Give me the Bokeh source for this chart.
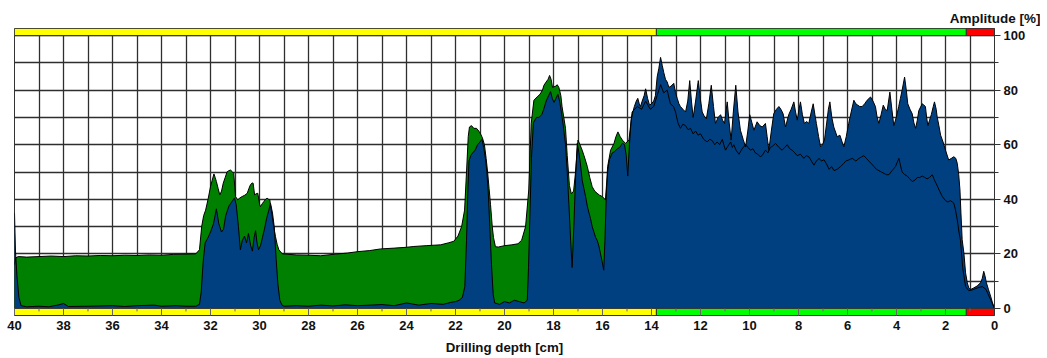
from bokeh.plotting import figure
from bokeh.models import Range1d, FixedTicker, Title
from bokeh.embed import file_html
from bokeh.resources import INLINE

# ---------------- data ----------------
green_depth = [40.00, 39.95, 39.85, 39.5, 39.0, 38.5, 38.0, 37.5, 37.0, 36.5, 36.0, 35.5, 35.0, 34.5, 34.0,
               33.5, 33.0, 32.6, 32.45, 32.36, 32.28, 32.20, 32.10, 32.00, 31.93, 31.86, 31.81, 31.76,
               31.69, 31.62, 31.55, 31.48, 31.40, 31.32, 31.25, 31.18, 31.10, 31.05, 30.98, 30.89, 30.80,
               30.71, 30.60, 30.50, 30.43, 30.37, 30.30, 30.26, 30.20, 30.14, 30.07, 29.99, 29.96, 29.88,
               29.82, 29.75, 29.69, 29.63, 29.58, 29.52, 29.48, 29.42, 29.35, 29.28, 29.21, 29.07, 28.5,
               28.0, 27.5, 27.0, 26.4, 26.0, 25.5, 25.06, 24.5, 24.0, 23.70, 23.2, 22.61, 22.3, 22.07,
               21.90, 21.75, 21.63, 21.55, 21.48, 21.43, 21.35, 21.25, 21.14, 21.05, 20.98, 20.90, 20.82,
               20.75, 20.69, 20.63, 20.57, 20.50, 20.45, 20.37, 20.25, 20.0, 19.7, 19.45, 19.30, 19.14,
               19.01, 18.91, 18.80, 18.67, 18.55, 18.45, 18.39, 18.30, 18.22, 18.16, 18.10, 18.04, 17.99,
               17.90, 17.85, 17.78, 17.70, 17.65, 17.58, 17.51, 17.44, 17.35, 17.27, 17.18, 17.10, 17.00,
               16.92, 16.83, 16.72, 16.62, 16.52, 16.42, 16.32, 16.22, 16.12, 16.01, 15.88, 15.83, 15.79,
               15.67, 15.53, 15.45, 15.37, 15.28, 15.19, 15.06, 14.92, 14.79, 14.58, 14.40, 14.24, 14.05,
               13.91, 13.77, 13.63, 13.50, 13.36, 13.23, 13.10, 13.02, 12.92, 12.82, 12.72, 12.61, 12.51,
               12.41, 12.30, 12.20, 12.10, 12.00, 11.87, 11.73, 11.62, 11.52, 11.42, 11.32, 11.22, 11.11,
               11.05, 10.98, 10.88, 10.77, 10.70, 10.64, 10.55, 10.43, 10.30, 10.16, 10.06, 9.96, 9.86,
               9.76, 9.66, 9.55, 9.45, 9.35, 9.25, 9.15, 9.05, 8.94, 8.80, 8.67, 8.56, 8.46, 8.36, 8.26,
               8.15, 8.05, 7.92, 7.78, 7.68, 7.57, 7.47, 7.37, 7.27, 7.16, 7.06, 6.96, 6.86, 6.75, 6.65,
               6.55, 6.42, 6.28, 6.17, 6.07, 5.93, 5.80, 5.66, 5.53, 5.43, 5.33, 5.23, 5.13, 5.02, 4.92,
               4.82, 4.72, 4.62, 4.51, 4.41, 4.31, 4.18, 4.04, 3.95, 3.90, 3.84, 3.77, 3.66, 3.56, 3.46,
               3.36, 3.25, 3.15, 3.05, 2.95, 2.85, 2.75, 2.65, 2.54, 2.45, 2.34, 2.24, 2.13, 2.00, 1.90,
               1.80, 1.72, 1.66, 1.59, 1.52, 1.45, 1.39, 1.30, 1.18, 1.05, 0.90, 0.70, 0.50, 0.35, 0.15,
               0.00]
green_amp = [16, 18.5, 19, 18.8, 19, 19.2, 19.0, 19.3, 19.2, 19.4, 19.3, 19.5, 19.4, 19.6, 19.5,
             19.8, 19.9, 20, 21.5, 30, 34, 36, 40, 44.6, 47, 49.3, 48, 46.5,
             44, 41.6, 43, 45.9, 48, 50.1, 50.5, 50.7, 50, 49.5, 41, 39.8, 40.5,
             41, 41.5, 42.2, 44, 45.3, 46, 45.9, 41.6, 42, 42.2, 38, 37.3, 38.5,
             39.2, 40, 40.4, 40, 39.8, 36, 33.7, 30, 26.4, 23.5, 21.5, 20, 19.6,
             19.5, 19.3, 19.8, 20.3, 20.8, 21.2, 21.8, 22.1, 22.4, 22.7, 23.0, 23.3, 24, 24.6,
             26.5, 30, 36, 50, 63, 66.5, 67, 66, 66, 65, 64, 62.5, 60,
             55, 50, 44, 38, 30, 26, 22.6, 22.5, 23, 23.3, 23.7, 25, 30,
             43.4, 67.8, 76.3, 77.5, 78.5, 80, 81.8, 83, 84, 85.4, 84, 81, 81.2,
             81.5, 82, 81, 78, 73.9, 70, 66, 56, 45, 42, 43, 50, 61.7,
             60, 58, 55, 52, 48, 44.6, 43, 42.2, 41.5, 41, 39.8, 46, 52,
             58, 60.5, 63, 64.7, 63, 61.7, 60.5, 61.7, 72, 74, 73, 76, 73,
             74, 78, 82, 79, 80, 75, 74, 72, 68, 66, 67.5, 67, 65.5,
             66, 64, 65, 63.5, 64, 62, 61, 62, 61.5, 60, 61, 60, 62,
             60, 58, 59.5, 61, 59, 60, 58, 56.5, 58.5, 60, 59, 58, 58.5,
             57, 56.5, 55.5, 56.5, 58, 57, 59, 59.5, 60.5, 59, 58, 59, 60, 58.5, 58,
             57, 56, 56.5, 55, 56, 55.5, 54, 52.5, 54, 55, 54, 54.5, 53, 51, 52,
             50.5, 51, 52, 53, 54, 54.5, 55, 54, 55, 55.5, 56, 55, 54, 53, 52,
             51, 50.5, 50, 49.5, 49, 49, 50.5, 52, 54, 55, 52.5, 50, 49, 48.5, 47.5,
             46.5, 47, 48, 48, 48.5, 48, 47.5, 48, 49, 47, 45, 43, 41, 39.5, 39,
             39.5, 39, 38.5, 36, 32.5, 28, 25, 15, 8, 6.5, 6.8, 7.5, 8, 7, 3,
             0]

blue_depth = [40.00, 39.96, 39.90, 39.82, 39.73, 39.5, 39.0, 38.6, 38.2, 38.0, 37.8, 37.0, 36.0, 35.5,
              35.0, 34.3, 34.0, 33.4, 33.0, 32.6, 32.45, 32.38, 32.30, 32.22, 32.10, 32.00, 31.88,
              31.76, 31.66, 31.55, 31.47, 31.38, 31.25, 31.10, 31.02, 30.95, 30.86, 30.78, 30.70,
              30.61, 30.53, 30.45, 30.36, 30.29, 30.22, 30.16, 30.10, 30.04, 29.96, 29.88, 29.80,
              29.71, 29.62, 29.55, 29.47, 29.40, 29.32, 29.25, 29.17, 29.08, 29.0, 28.5, 28.0, 27.5,
              27.0, 26.5, 26.0, 25.5, 25.0, 24.5, 24.0, 23.5, 23.0, 22.5, 22.2, 22.0, 21.85, 21.72,
              21.62, 21.55, 21.50, 21.45, 21.38, 21.30, 21.20, 21.10, 21.00, 20.92, 20.85, 20.78,
              20.72, 20.66, 20.60, 20.53, 20.46, 20.40, 20.2, 20.0, 19.8, 19.6, 19.4, 19.2, 19.07,
              19.02, 18.96, 18.90, 18.82, 18.70, 18.60, 18.48, 18.40, 18.30, 18.20, 18.12, 18.05,
              17.98, 17.90, 17.82, 17.75, 17.68, 17.60, 17.51, 17.44, 17.37, 17.30, 17.24, 17.17,
              17.10, 17.03, 16.96, 16.90, 16.83, 16.76, 16.69, 16.62, 16.55, 16.49, 16.42, 16.35,
              16.28, 16.22, 16.15, 16.08, 16.01, 15.95, 15.90, 15.84, 15.78, 15.72, 15.60, 15.50,
              15.40, 15.30, 15.19, 15.10, 15.03, 14.97, 14.90, 14.83, 14.76, 14.70, 14.62, 14.56,
              14.50, 14.45, 14.38, 14.30, 14.24, 14.16, 14.08, 14.00, 13.91, 13.84, 13.77, 13.70,
              13.63, 13.56, 13.50, 13.43, 13.36, 13.29, 13.20, 13.09, 13.02, 12.95, 12.88, 12.82,
              12.72, 12.61, 12.52, 12.44, 12.37, 12.30, 12.20, 12.09, 12.01, 11.93, 11.85, 11.76,
              11.66, 11.56, 11.47, 11.39, 11.28, 11.18, 11.10, 11.02, 10.91, 10.83, 10.75, 10.66,
              10.56, 10.47, 10.37, 10.26, 10.16, 10.07, 9.99, 9.90, 9.82, 9.69, 9.58, 9.48, 9.35,
              9.28, 9.21, 9.11, 9.01, 8.90, 8.80, 8.72, 8.63, 8.53, 8.40, 8.30, 8.19, 8.12, 8.05,
              7.98, 7.92, 7.84, 7.76, 7.67, 7.58, 7.48, 7.40, 7.33, 7.27, 7.18, 7.10, 7.02, 6.94,
              6.85, 6.78, 6.72, 6.64, 6.56, 6.42, 6.31, 6.22, 6.15, 6.05, 5.95, 5.85, 5.74, 5.66,
              5.58, 5.50, 5.40, 5.30, 5.20, 5.06, 4.96, 4.86, 4.79, 4.72, 4.63, 4.54, 4.46, 4.38,
              4.27, 4.19, 4.11, 4.01, 3.91, 3.84, 3.77, 3.67, 3.60, 3.54, 3.45, 3.36, 3.29, 3.22,
              3.15, 3.09, 2.95, 2.88, 2.82, 2.77, 2.72, 2.65, 2.58, 2.50, 2.45, 2.38, 2.34, 2.27,
              2.20, 2.10, 2.00, 1.87, 1.76, 1.66, 1.58, 1.52, 1.46, 1.41, 1.37, 1.32, 1.25, 1.18,
              1.11, 1.05, 0.98, 0.85, 0.71, 0.57, 0.50, 0.44, 0.39, 0.33, 0.25, 0.16, 0.08, 0.00]
blue_amp = [35, 21, 12, 4, 1, 0.6, 0.8, 0.6, 1.3, 1.8, 0.7, 0.8, 1.0, 0.7,
            1.0, 1.2, 0.8, 1.0, 0.8, 0.8, 1.5, 6, 17, 24, 26, 28, 31,
            36.5, 31, 28, 29, 34, 37.5, 39.5, 40.5, 38, 30, 21.5, 25,
            26.5, 24, 27.5, 23, 21, 26, 28.5, 24, 21.5, 23, 26, 29,
            33, 36, 38.5, 35, 30, 18, 9, 3, 1.2, 0.8, 1.0, 0.8, 1.2,
            0.9, 1.3, 1.0, 1.2, 1.4, 1.0, 2.0, 1.2, 1.8, 1.5, 2.2, 2.5, 3, 4,
            8, 25, 42, 54, 56, 57, 58, 60, 61, 62, 59, 55,
            50, 42, 30, 16, 5, 2, 1.5, 2.5, 2, 3, 2.5, 2, 3,
            15, 35, 55, 68, 70, 70, 71, 73, 76, 78, 79.5, 77,
            75.5, 77, 78.5, 76, 72, 67, 60, 50, 38, 25, 15, 30,
            48, 60.5, 57, 53, 47, 44, 41, 37.5, 35, 33, 30, 28,
            26, 25, 23, 20, 17, 14, 25, 43, 51, 54.5, 57, 57.5,
            58.5, 59, 60.5, 60, 56, 48.5, 60, 69, 72, 74, 76, 77,
            75, 74, 76, 78, 80.5, 77, 74.5, 75, 76, 78, 84.8, 88,
            92, 89, 86.5, 84, 83, 81, 81.5, 82.5, 79, 77, 75, 74,
            73, 72, 76, 83.5, 76, 70, 76, 83.5, 77, 72, 70.5, 69.5,
            75, 81.8, 74, 67.8, 70, 71, 69, 67.8, 75.7, 68, 61.7, 72,
            81.8, 72, 65.3, 62, 59.2, 65, 71, 68, 65.3, 68.4, 67, 66.5, 67.8,
            63, 58, 65, 71.4, 73, 74, 73, 71.4, 66.5, 71, 73, 75.7, 72, 69,
            73, 75.7, 71, 67.8, 68.5, 67.8, 72, 75, 71, 67.8, 63, 59.2, 60, 61.7,
            68, 73, 75.7, 70, 66.5, 62.9, 63.5, 61, 59.2, 63, 67.8, 72, 76.3, 75,
            74.5, 74, 74, 75, 76.3, 77.5, 76, 74, 70, 67.8, 71, 74.5, 73, 72.5,
            79.3, 73, 67, 70, 74, 77, 80, 84.8, 80, 75, 73, 71.4, 68, 66,
            69, 72.5, 75, 74.5, 74, 70, 67, 69, 71, 74, 75.7, 73, 70.2, 67,
            63.5, 61, 58, 54.4, 55, 55.6, 55, 53.2, 49, 43.4, 35, 25.2, 20.3, 13,
            9.4, 7.5, 6.9, 7.5, 8.2, 9.4, 11, 13.6, 12, 9.4, 7, 4.5, 2, 0]

# quality strip (drilling depth ranges and colours)
strip_from = [40.0, 13.8, 1.15]
strip_to = [13.8, 1.15, 0.0]
strip_color = ["#FFFF00", "#00FF00", "#FF0000"]

x_major_ticks = list(range(0, 41, 2))
x_minor_ticks = list(range(1, 40, 2))
x_grid_ticks = list(range(0, 41))
y_major_ticks = [0, 20, 40, 60, 80, 100]
y_minor_ticks = [10, 30, 50, 70, 90]
y_grid_ticks = list(range(0, 101, 10))

FONT = "Liberation Sans"
STRIP_H = 2.6

p = figure(width=1040, height=358,
           x_range=Range1d(40, 0), y_range=Range1d(-STRIP_H, 100 + STRIP_H),
           y_axis_location="right", output_backend="svg", toolbar_location=None,
           min_border_left=14, min_border_right=46, min_border_top=28, min_border_bottom=43)
p.background_fill_color = "white"
p.border_fill_color = "white"
p.outline_line_color = "#333333"

p.xgrid.ticker = FixedTicker(ticks=x_grid_ticks)
p.ygrid.ticker = FixedTicker(ticks=y_grid_ticks)
for g in (p.xgrid, p.ygrid):
    g.grid_line_color = "#2e2e2e"
    g.grid_line_width = 1.3

# areas
p.varea(x=green_depth, y1=0, y2=green_amp, fill_color="#008000")
p.varea(x=blue_depth, y1=0, y2=blue_amp, fill_color="#004080")
p.line(green_depth, green_amp, line_color="black", line_width=1)
p.line(blue_depth, blue_amp, line_color="black", line_width=1)

# quality strips (top and bottom)
p.quad(left=strip_from, right=strip_to, bottom=100, top=100 + STRIP_H,
       fill_color=strip_color, line_color="#333333", line_width=1)
p.quad(left=strip_from, right=strip_to, bottom=-STRIP_H, top=0,
       fill_color=strip_color, line_color="#333333", line_width=1)
p.segment(x0=x_minor_ticks, x1=x_minor_ticks, y0=[0] * len(x_minor_ticks),
          y1=[-1.1] * len(x_minor_ticks), line_color="#666666", line_width=1)

# x axis
xa = p.xaxis[0]
xa.ticker = FixedTicker(ticks=x_major_ticks)
xa.major_tick_in = 7
xa.major_tick_out = 0
xa.minor_tick_in = 0
xa.minor_tick_out = 0
xa.major_tick_line_color = "#666666"
xa.axis_line_color = "#333333"
xa.major_label_standoff = 5
xa.major_label_text_font = FONT
xa.major_label_text_font_size = "13px"
xa.major_label_text_font_style = "bold"
xa.major_label_text_color = "#111111"
xa.axis_label = "Drilling depth [cm]"
xa.axis_label_standoff = 7
xa.axis_label_text_font = FONT
xa.axis_label_text_font_size = "13.3px"
xa.axis_label_text_font_style = "bold"
xa.axis_label_text_color = "#111111"

# y axis (right)
ya = p.yaxis[0]
ya.ticker = FixedTicker(ticks=y_major_ticks, minor_ticks=y_minor_ticks)
ya.major_tick_in = 0
ya.major_tick_out = 6
ya.minor_tick_in = 0
ya.minor_tick_out = 4
ya.major_tick_line_color = "#333333"
ya.minor_tick_line_color = "#333333"
ya.axis_line_color = "#333333"
ya.major_label_standoff = 3
ya.major_label_text_font = FONT
ya.major_label_text_font_size = "13px"
ya.major_label_text_font_style = "bold"
ya.major_label_text_color = "#111111"

p.add_layout(Title(text="Amplitude [%]", align="right", offset=-46, standoff=6,
                   text_font=FONT, text_font_size="13.5px", text_font_style="bold",
                   text_color="#111111"), "above")

open("out.html", "w").write(file_html(p, INLINE))
